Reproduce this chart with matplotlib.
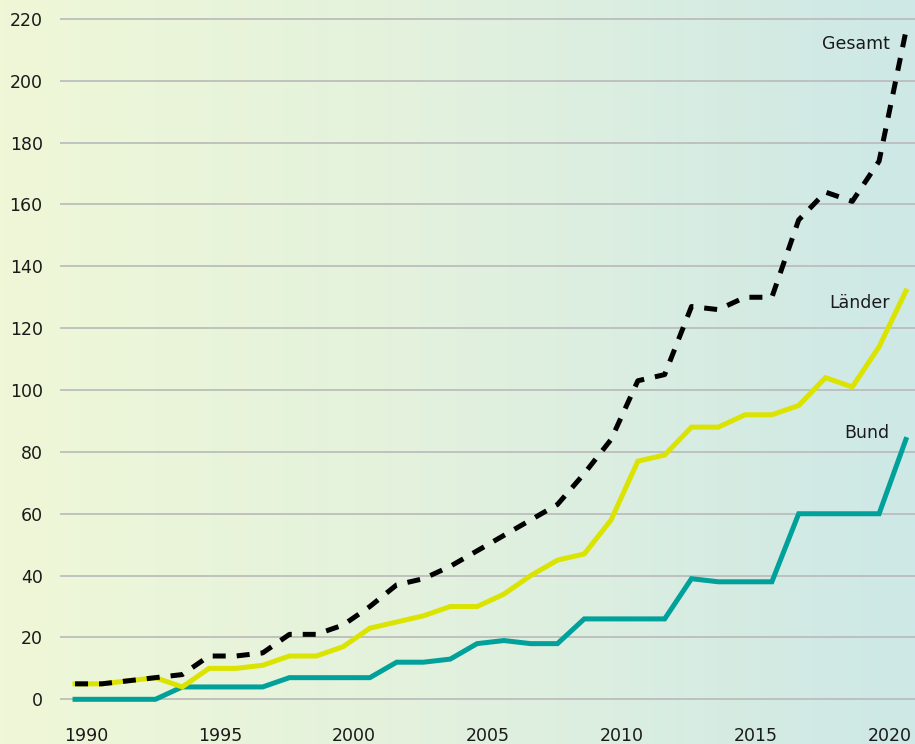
import numpy as np
import matplotlib.pyplot as plt
from matplotlib.colors import LinearSegmentedColormap

years = list(range(1990, 2022))
gesamt = [5, 5, 6, 7, 8, 14, 14, 15, 21, 21, 24, 30, 37, 39, 43, 48,
          53, 58, 63, 73, 84, 103, 105, 127, 126, 130, 130, 155, 164, 161, 174, 216]
laender = [5, 5, 6, 7, 4, 10, 10, 11, 14, 14, 17, 23, 25, 27, 30, 30,
           34, 40, 45, 47, 58, 77, 79, 88, 88, 92, 92, 95, 104, 101, 114, 132]
bund = [0, 0, 0, 0, 4, 4, 4, 4, 7, 7, 7, 7, 12, 12, 13, 18,
        19, 18, 18, 26, 26, 26, 26, 39, 38, 38, 38, 60, 60, 60, 60, 84]
tick_years = [1990, 1995, 2000, 2005, 2010, 2015, 2020]
y_ticks = list(range(0, 221, 20))

plt.rcParams['font.family'] = ['DejaVu Sans']
text_col = '#1a1a1a'

fig = plt.figure(figsize=(9.15, 7.44), dpi=100)

# background gradient
bg = fig.add_axes([0, 0, 1, 1], zorder=0)
cmap = LinearSegmentedColormap.from_list('bg', ['#eff7d7', '#e2f1de', '#cde8e6'])
bg.imshow(np.linspace(0, 1, 256).reshape(1, -1), aspect='auto', cmap=cmap,
          extent=[0, 1, 0, 1])
bg.axis('off')

ax = fig.add_axes([0.0656, 0.0476, 0.9344, 0.9353], zorder=1)
ax.patch.set_alpha(0)

ax.plot(years, bund, color='#00a19a', lw=3.6, solid_joinstyle='miter', zorder=3)
ax.plot(years, laender, color='#dbe300', lw=3.6, solid_joinstyle='miter', zorder=4)
ax.plot(years, gesamt, color='black', lw=3.6, dashes=(2.6, 2.2), zorder=5)

ax.text(2020.4, 212, 'Gesamt', ha='right', va='center', fontsize=12.5, color=text_col)
ax.text(2020.4, 128, 'Länder', ha='right', va='center', fontsize=12.5, color=text_col)
ax.text(2020.4, 86, 'Bund', ha='right', va='center', fontsize=12.5, color=text_col)

ax.set_xlim(1989.44, 2021.34)
ax.set_ylim(-3, 222)
ax.set_yticks(y_ticks)
ax.set_xticks([y + 0.41 for y in tick_years])
ax.set_xticklabels([str(y) for y in tick_years])
ax.yaxis.grid(True, color='#b9b9b9', lw=1.2)
ax.set_axisbelow(True)
for s in ax.spines.values():
    s.set_visible(False)
ax.tick_params(axis='both', length=0, labelsize=12.5, labelcolor=text_col)
ax.tick_params(axis='y', pad=12.5)
ax.tick_params(axis='x', pad=13)

fig.savefig('out.png', dpi=100)
